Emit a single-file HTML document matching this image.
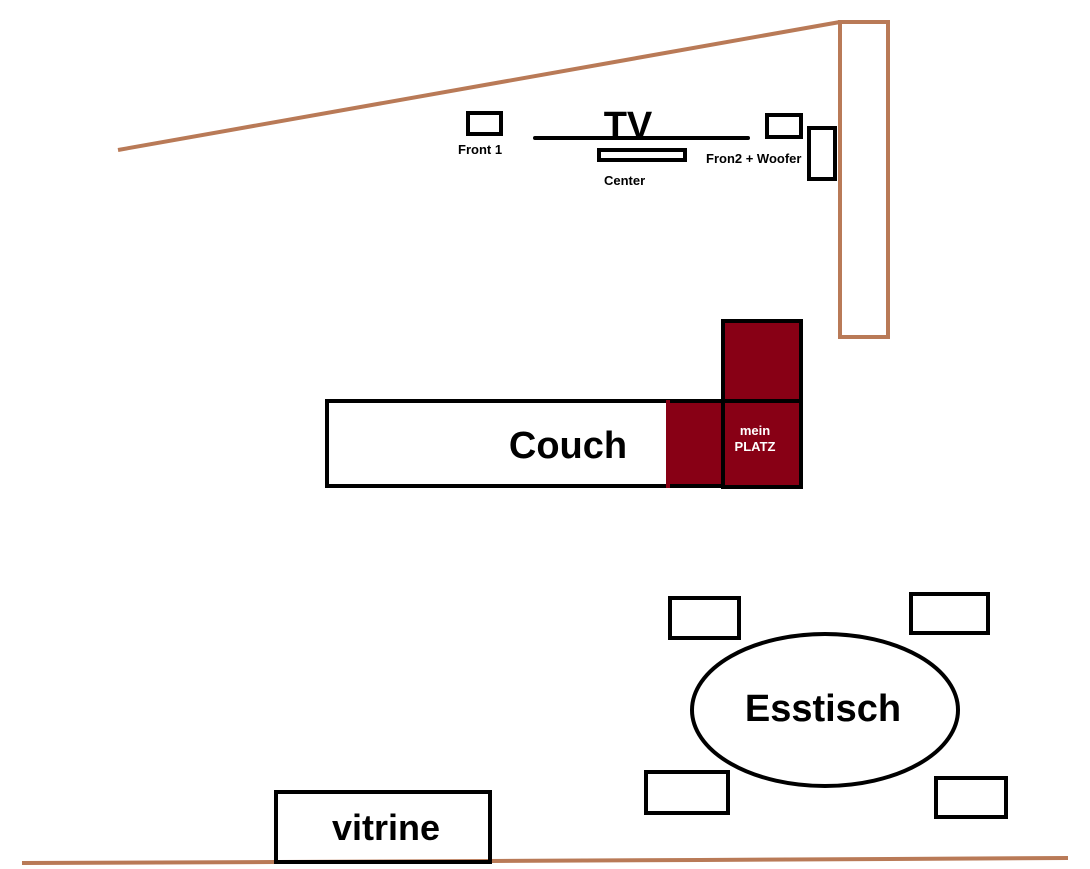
<!DOCTYPE html>
<html><head><meta charset="utf-8"><style>
html,body{margin:0;padding:0;background:#fff;}
svg{display:block;}
text{font-family:"Liberation Sans",Arial,sans-serif;font-weight:bold;}
</style></head><body>
<svg width="1090" height="869" viewBox="0 0 1090 869" xmlns="http://www.w3.org/2000/svg">
<rect width="1090" height="869" fill="#fff"/>
<g stroke="#b97a57" stroke-width="4" fill="none">
<line x1="118" y1="150" x2="840" y2="22"/>
<rect x="840" y="22" width="48" height="315"/>
<polyline points="22,863 276,862 490,861 700,860 1068,858"/>
</g>
<g stroke="#000" stroke-width="4" fill="none">
<rect x="468" y="113" width="33" height="21"/>
<line x1="535" y1="138" x2="748" y2="138" stroke-linecap="round"/>
<rect x="599" y="150" width="86" height="10"/>
<rect x="767" y="115" width="34" height="22"/>
<rect x="809" y="128" width="26" height="51"/>
</g>
<text x="628" y="138" font-size="38" text-anchor="middle">TV</text>
<text x="458" y="154" font-size="13">Front 1</text>
<text x="604" y="185" font-size="13">Center</text>
<text x="706" y="163" font-size="13">Fron2 + Woofer</text>
<rect x="327" y="401" width="396" height="85" fill="#fff" stroke="#000" stroke-width="4"/>
<rect x="667" y="403" width="56" height="81" fill="#880015"/>
<line x1="668" y1="400" x2="668" y2="488" stroke="#880015" stroke-width="4"/>
<rect x="723" y="321" width="78" height="80" fill="#880015" stroke="#000" stroke-width="4"/>
<rect x="723" y="401" width="78" height="86" fill="#880015" stroke="#000" stroke-width="4"/>
<text x="568" y="458" font-size="38" text-anchor="middle">Couch</text>
<text x="755" y="435" font-size="13" fill="#fff" text-anchor="middle">mein</text>
<text x="755" y="451" font-size="13" fill="#fff" text-anchor="middle">PLATZ</text>
<g stroke="#000" stroke-width="4" fill="none">
<rect x="670" y="598" width="69" height="40"/>
<rect x="911" y="594" width="77" height="39"/>
<rect x="646" y="772" width="82" height="41"/>
<rect x="936" y="778" width="70" height="39"/>
<ellipse cx="825" cy="710" rx="133" ry="76"/>
<rect x="276" y="792" width="214" height="70"/>
</g>
<text x="823" y="721" font-size="38" text-anchor="middle">Esstisch</text>
<text x="386" y="840" font-size="36" text-anchor="middle">vitrine</text>
</svg>
</body></html>
